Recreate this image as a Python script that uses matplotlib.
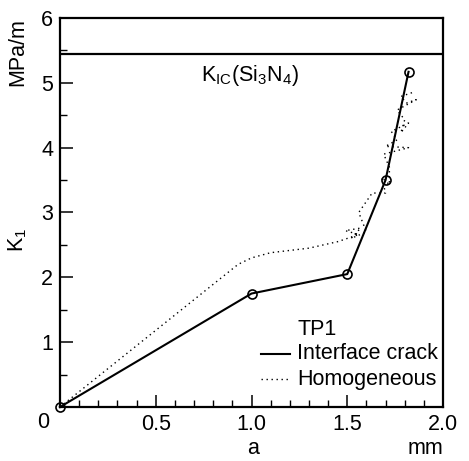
import matplotlib
matplotlib.use("Agg")
import matplotlib.pyplot as plt
from matplotlib.ticker import MultipleLocator, FixedLocator

plt.rcParams['font.family'] = ['Liberation Sans', 'DejaVu Sans']
plt.rcParams['mathtext.fontset'] = 'custom'
plt.rcParams['mathtext.rm'] = 'Liberation Sans'
plt.rcParams['mathtext.it'] = 'Liberation Sans'

# Data
interface_a = [0.0, 1.0, 1.5, 1.7, 1.82]
interface_k = [0.0, 1.75, 2.05, 3.5, 5.17]

homog_a = [0.0, 0.93, 1.0, 1.1, 1.3, 1.45, 1.5, 1.56, 1.49, 1.57, 1.52, 1.60, 1.56,
           1.63, 1.70, 1.68, 1.72, 1.72, 1.69, 1.82, 1.70, 1.76, 1.73, 1.82, 1.78,
           1.80, 1.76, 1.86, 1.81, 1.78, 1.84]
homog_k = [0.0, 2.2, 2.3, 2.38, 2.45, 2.55, 2.6, 2.66, 2.72, 2.76, 2.6, 2.7, 3.0,
           3.3, 3.3, 3.54, 3.43, 3.7, 3.9, 4.0, 4.02, 4.12, 4.25, 4.38, 4.23,
           4.43, 4.58, 4.74, 4.69, 4.79, 4.85]

kic_value = 5.45
x_ticks = [0.5, 1.0, 1.5, 2.0]
y_ticks = [1, 2, 3, 4, 5, 6]

fig = plt.figure(figsize=(4.69, 4.61), dpi=100)
ax = fig.add_axes([60/469, 1 - 407/461, (443-60)/469, (407-18)/461])

FS = 15.5
DOT = (0, (1, 2.6))
ax.plot(homog_a, homog_k, color='black', lw=1.0, linestyle=DOT, clip_on=False)
ax.plot(interface_a, interface_k, color='black', lw=1.5, marker='o', ms=6.5,
        mfc='none', mec='black', mew=1.2, clip_on=False, zorder=5)
ax.axhline(kic_value, color='black', lw=1.6)

ax.set_xlim(0, 2.0)
ax.set_ylim(0, 6)
ax.xaxis.set_major_locator(FixedLocator([0.0] + x_ticks))
ax.xaxis.set_minor_locator(MultipleLocator(0.1))
ax.yaxis.set_major_locator(FixedLocator([0] + y_ticks))
ax.yaxis.set_minor_locator(MultipleLocator(0.5))
ax.set_xticklabels([''] + ['%.1f' % v for v in x_ticks], fontsize=FS)
ax.set_yticklabels([''] + [str(v) for v in y_ticks], fontsize=FS)
ax.tick_params(which='major', direction='in', length=9, width=1.1, pad=5)
ax.tick_params(which='minor', direction='in', length=5, width=1.0)
ax.tick_params(top=False, right=False)
for s in ax.spines.values():
    s.set_linewidth(1.6)

# origin label
ax.text(-0.045, -0.04, '0', transform=ax.transAxes, fontsize=FS, ha='center', va='center')

# axis labels
fig.text(253/469, 1 - 448/461, 'a', fontsize=FS, ha='center', va='center')
fig.text(425/469, 1 - 448/461, 'mm', fontsize=FS, ha='center', va='center')
fig.text(18/469, 1 - 240/461, r'K$_1$', fontsize=FS, ha='center', va='center', rotation=90)
fig.text(18/469, 1 - 52/461, 'MPa/m', fontsize=FS, ha='center', va='center', rotation=90)

ax.text(0.99, 5.12, r'K$_{\mathrm{IC}}$(Si$_3$N$_4$)', fontsize=FS, ha='center', va='center')

# legend
ax.text(1.24, 1.2, 'TP1', fontsize=FS, ha='left', va='center')
ax.plot([1.05, 1.2], [0.82, 0.82], color='black', lw=1.5)
ax.text(1.24, 0.82, 'Interface crack', fontsize=FS, ha='left', va='center')
ax.plot([1.05, 1.2], [0.43, 0.43], color='black', lw=1.0, linestyle=DOT)
ax.text(1.24, 0.43, 'Homogeneous', fontsize=FS, ha='left', va='center')

fig.savefig('out.png', dpi=100)
